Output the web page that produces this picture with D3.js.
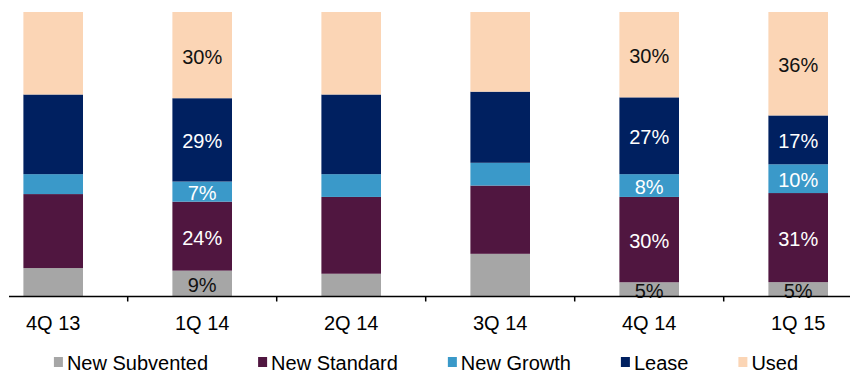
<!DOCTYPE html>
<html>
<head>
<meta charset="utf-8">
<script src="https://cdn.jsdelivr.net/npm/d3@7"></script>
<style>
  html, body { margin: 0; padding: 0; background: #fff; }
  svg { display: block; font-family: "Liberation Sans", Arial, sans-serif; }
</style>
</head>
<body>
<svg id="chart" width="850" height="373"></svg>
<script>
const categories = ["4Q 13", "1Q 14", "2Q 14", "3Q 14", "4Q 14", "1Q 15"];
const seriesNames = ["New Subvented", "New Standard", "New Growth", "Lease", "Used"];
const newSubvented = [10, 9, 8, 15, 5, 5];
const newStandard  = [26, 24, 27, 24, 30, 31];
const newGrowth    = [7, 7, 8, 8, 8, 10];
const lease        = [28, 29, 28, 25, 27, 17];
const used         = [29, 30, 29, 28, 30, 36];
const labeledCategories = ["1Q 14", "4Q 14", "1Q 15"];
const colors = ["#A6A6A6", "#501640", "#3A99C9", "#002060", "#FBD5B5"];
const labelColors = ["#111", "#fff", "#fff", "#fff", "#111"];

const seriesValues = [newSubvented, newStandard, newGrowth, lease, used];
const rows = categories.map((c, i) => {
  const r = { cat: c };
  seriesNames.forEach((s, j) => r[s] = seriesValues[j][i]);
  return r;
});

const FS = 20;
const svg = d3.select("#chart");
const x = d3.scaleBand().domain(categories).range([-21.3, 872.7]).paddingInner(0.6).paddingOuter(0.3);
const y = d3.scaleLinear().domain([0, 1]).range([296.5, 12]);
const color = d3.scaleOrdinal().domain(seriesNames).range(colors);
const labelColor = d3.scaleOrdinal().domain(seriesNames).range(labelColors);

const stacked = d3.stack().keys(seriesNames).offset(d3.stackOffsetExpand)(rows);

const layers = svg.append("g").selectAll("g").data(stacked).join("g")
  .attr("fill", d => color(d.key));
layers.selectAll("rect").data(d => d).join("rect")
  .attr("x", d => x(d.data.cat))
  .attr("width", x.bandwidth())
  .attr("y", d => y(d[1]))
  .attr("height", d => y(d[0]) - y(d[1]));

// data labels
const lab = svg.append("g").attr("font-size", FS);
stacked.forEach(layer => {
  layer.forEach(d => {
    if (!labeledCategories.includes(d.data.cat)) return;
    lab.append("text")
      .attr("x", x(d.data.cat) + x.bandwidth() / 2)
      .attr("y", (y(d[0]) + y(d[1])) / 2 + 1.5)
      .attr("text-anchor", "middle")
      .attr("dominant-baseline", "central")
      .attr("fill", labelColor(layer.key))
      .text(d.data[layer.key] + "%");
  });
});

// x axis
const axisY = 296.5;
const axisG = svg.append("g").attr("transform", `translate(0,${axisY})`);
axisG.append("line").attr("x1", 9).attr("x2", 850).attr("y1", 0).attr("y2", 0)
  .attr("stroke", "#000").attr("stroke-width", 1.5);
const tickXs = categories.slice(0, -1).map(c => x(c) + x.bandwidth() / 2 + x.step() / 2);
axisG.selectAll("line.tick").data(tickXs).join("line").attr("class", "tick")
  .attr("x1", d => d).attr("x2", d => d).attr("y1", 0).attr("y2", 5)
  .attr("stroke", "#000").attr("stroke-width", 1.5);
const labelAxis = d3.axisBottom(x).tickSize(0).tickPadding(0);
const lg = svg.append("g").attr("transform", `translate(0,${axisY})`).call(labelAxis);
lg.select(".domain").remove();
lg.selectAll("text").attr("font-size", FS).attr("font-family", "Liberation Sans, Arial, sans-serif")
  .attr("fill", "#000").attr("dy", null).attr("y", 33);

// legend
const legend = svg.append("g").attr("font-size", FS);
const items = legend.selectAll("g").data(seriesNames).join("g");
items.append("rect").attr("width", 9).attr("height", 10).attr("y", 357)
  .attr("fill", d => color(d));
items.append("text").attr("x", 13).attr("y", 370).attr("fill", "#000").text(d => d);
const widths = [];
items.each(function() {
  widths.push(13 + this.querySelector("text").getComputedTextLength());
});
const gapBetween = 50;
const total = d3.sum(widths) + gapBetween * (widths.length - 1);
let startX = 426 - total / 2;
items.attr("transform", (d, i) => {
  const tx = startX;
  startX += widths[i] + gapBetween;
  return `translate(${tx},0)`;
});
</script>
</body>
</html>
